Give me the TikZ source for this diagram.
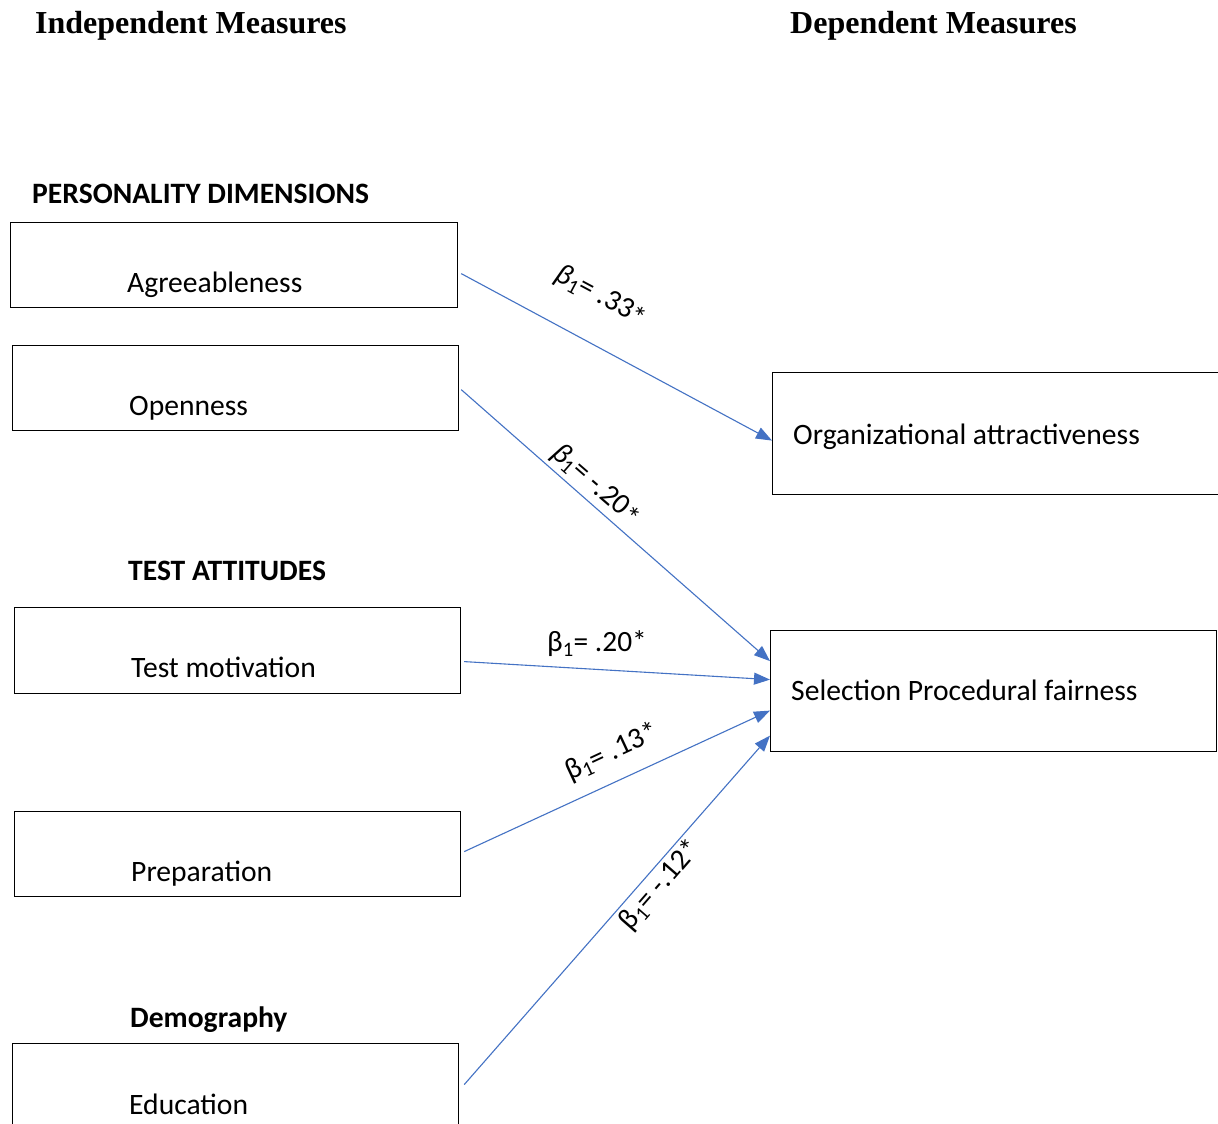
\documentclass[tikz,border=0pt]{standalone}
\usepackage{fontspec}
\setmainfont{Carlito}
\newfontfamily\headfont{Liberation Serif}
\usetikzlibrary{positioning,arrows.meta}
\definecolor{arrowblue}{HTML}{4472C4}
\tikzset{
box/.style={draw=black, line width=1.2pt, rectangle, anchor=north west,
    minimum width=446pt, minimum height=85pt, inner sep=0pt},
boxtxt/.style={anchor=base west, inner sep=0pt, font=\fontsize{29.6}{35}\selectfont},
group/.style={anchor=base west, inner sep=0pt, font=\fontsize{29.6}{35}\selectfont\bfseries},
head/.style={anchor=base west, inner sep=0pt, font=\headfont\fontsize{32}{38}\selectfont\bfseries},
link/.style={draw=arrowblue, line width=1.1pt, -{Triangle[length=16pt,width=12pt]}},
beta/.style={inner sep=0pt, font=\fontsize{29.4}{35}\selectfont}
}
\newcommand{\lowstar}{\raisebox{-0.3ex}{*}}

\begin{document}
\begin{tikzpicture}[x=1pt,y=-1pt]
\fill[white] (0,0) rectangle (1218,1124);
\useasboundingbox (0,0) rectangle (1218,1124);

% headings
\node[head] (indep) at (35,34) {Independent Measures};
\node[head] (dep) at (790,34) {Dependent Measures};

% personality dimensions
\node[group] (pers) at (32,203) {PERSONALITY DIMENSIONS};
\node[box, minimum width=447pt] (agree) at (10,222) {};
\node[boxtxt] (agree-txt) at (127,292) {Agreeableness};
\node[box] (open) at (12,345) {};
\node[boxtxt] (open-txt) at (129,415) {Openness};

% test attitudes
\node[group] (test) at (128,580) {TEST ATTITUDES};
\node[box, minimum height=86pt] (motiv) at (14,607) {};
\node[boxtxt] (motiv-txt) at (131,677) {Test motivation};
\node[box] (prep) at (14,811) {};
\node[boxtxt] (prep-txt) at (131,881) {Preparation};

% demography
\node[group] (demo) at (130,1027) {Demography};
\node[box] (edu) at (12,1043) {};
\node[boxtxt] (edu-txt) at (129,1114) {Education};

% dependent measures
\node[box, minimum width=460pt, minimum height=122pt] (orga) at (772,372) {};
\node[boxtxt] (orga-txt) at (793,444) {Organizational attractiveness};
\node[box, minimum height=121pt] (sel) at (770,630) {};
\node[boxtxt] (sel-txt) at (791,700) {Selection Procedural fairness};

% paths
\draw[link] ([shift={(3,8.5)}]agree.east) -- ([shift={(0,7)}]orga.west);
\draw[link] ([shift={(2,1.5)}]open.east) -- ([shift={(0,-30)}]sel.west);
\draw[link] ([shift={(3,11)}]motiv.east) -- ([shift={(0,-11.5)}]sel.west);
\draw[link] ([shift={(3,-2.5)}]prep.east) -- ([shift={(0,19.5)}]sel.west);
\draw[link] ([shift={(5,-1.5)}]edu.east) -- ([shift={(0,44.5)}]sel.west);

% coefficients
\node[beta, rotate=-28] (b-agree) at (601,296) {\textit{β}\textsubscript{1}= .33\lowstar};
\node[beta, rotate=-41] (b-open) at (596,485) {\textit{β}\textsubscript{1}= -.20\lowstar};
\node[beta] (b-motiv) at (597,644) {β\textsubscript{1}= .20*};
\node[beta, rotate=25] (b-prep) at (612,752) {β\textsubscript{1}= .13*};
\node[beta, rotate=49] (b-edu) at (660,885) {β\textsubscript{1}= -.12*};
\end{tikzpicture}
\end{document}
